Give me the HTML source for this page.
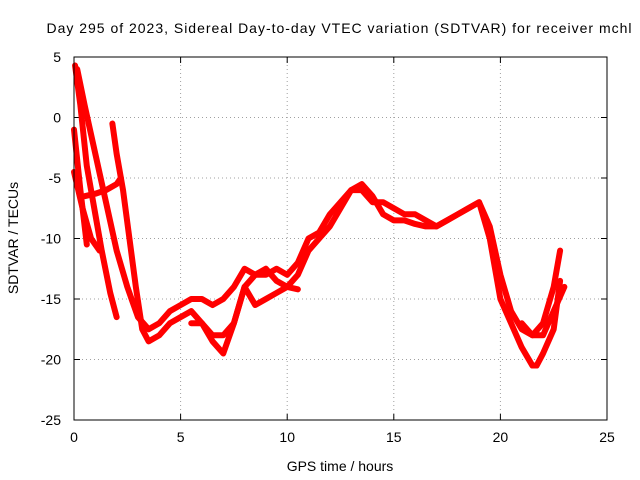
<!DOCTYPE html>
<html><head><meta charset="utf-8"><style>
html,body{margin:0;padding:0;background:#fff}
svg{display:block;font-family:"Liberation Sans",sans-serif}
</style></head><body>
<svg id="chart" width="640" height="480">
<text x="339" y="33" font-size="14" text-anchor="middle" textLength="585">Day 295 of 2023, Sidereal Day-to-day VTEC variation (SDTVAR) for receiver mchl</text>
<text x="340" y="471" font-size="14" text-anchor="middle">GPS time / hours</text>
<text x="0" y="0" font-size="14" text-anchor="middle" transform="translate(18,238) rotate(-90)">SDTVAR / TECUs</text>
<g id="grid"></g><g id="ticks"></g><g id="series"></g>
<rect x="74" y="57" width="533" height="363" fill="none" stroke="#000" stroke-width="1"/>
</svg>
<script>
const xTicks=[0,5,10,15,20,25];
const yTicks=[5,0,-5,-10,-15,-20,-25];
const s1x=[0.05,0.3,0.6,1,1.3,1.7,2.0];
const s1y=[4.3,1,-4,-8,-11,-14.5,-16.5];
const s2x=[0.15,0.5,1,1.5,2,2.5,3,3.5,4,4.5,5,5.5,6,6.5,7,7.5,8,8.5,9,9.5,10,10.5,11,11.5,12,12.5,13,13.5,14,14.5,15,15.5,16,16.5,17,17.5,18,18.5,19,19.5,20,20.5,21,21.5,22,22.5,23];
const s2y=[4,1,-3,-7,-11,-14,-16.5,-17.5,-17,-16,-15.5,-15,-15,-15.5,-15,-14,-12.5,-13,-13,-12.5,-13,-12,-10,-9.5,-8,-7,-6,-6,-7,-7,-7.5,-8,-8,-8.5,-9,-8.5,-8,-7.5,-7,-9,-13,-16,-17.5,-18,-18,-16,-14];
const s3x=[1.8,2,2.3,2.6,2.9,3.2,3.5,4,4.5,5,5.5,6,6.5,7,7.5,8,8.5,9,9.5,10,10.5,11,11.5,12,12.5,13,13.5,14,14.5,15,15.5,16,16.5,17,17.5,18,18.5,19,19.5,20,20.5,21,21.5,21.7,22,22.5,22.8];
const s3y=[-0.5,-3,-6,-10,-14,-17.5,-18.5,-18,-17,-16.5,-16,-17,-18,-18,-17,-14,-13,-12.5,-13.5,-14,-13,-11,-10,-9,-7.5,-6,-5.5,-6.5,-8,-8.5,-8.5,-8.8,-9,-9,-8.5,-8,-7.5,-7,-10,-15,-17,-19,-20.5,-20.5,-19.5,-17.5,-13.5];
const s4x=[0,0.3,0.6];
const s4y=[-1,-6,-10.5];
const s5x=[0,0.4,0.8,1.2];
const s5y=[-4.5,-7.5,-10,-11];
const s6x=[0.5,1,1.5,2,2.2];
const s6y=[-6.5,-6.3,-6,-5.5,-5];
const s7x=[5.5,6,6.5,7,7.5,8,8.5,9,9.5,10,10.5];
const s7y=[-17,-17,-18.5,-19.5,-17,-14,-15.5,-15,-14.5,-14,-14.2];
const s8x=[21,21.5,22,22.5,22.8];
const s8y=[-17,-18,-17,-14,-11];
const X=v=>74+(v-0)/25*533;
const Y=v=>57+(5-v)/30*363;
const NS="http://www.w3.org/2000/svg";
const mk=(t,a,p)=>{const e=document.createElementNS(NS,t);for(const k in a)e.setAttribute(k,a[k]);p.appendChild(e);return e;};
const grid=document.getElementById('grid'),ticks=document.getElementById('ticks'),ser=document.getElementById('series');
xTicks.forEach(t=>{
  const x=X(t);
  if(t>0&&t<25){const g=mk('line',{x1:x,x2:x,y1:57,y2:420,stroke:'#a0a0a0','stroke-dasharray':'1,3'},grid);
  
  }
  mk('line',{x1:x,x2:x,y1:420,y2:414,stroke:'#000'},ticks);
  mk('line',{x1:x,x2:x,y1:57,y2:63,stroke:'#000'},ticks);
  const l=mk('text',{x:x,y:442,'font-size':14,'text-anchor':'middle'},ticks);l.textContent=t;
  
  
});
yTicks.forEach(t=>{
  const y=Y(t);
  if(t<5&&t>-25){const g=mk('line',{x1:74,x2:607,y1:y,y2:y,stroke:'#a0a0a0','stroke-dasharray':'1,3'},grid);
  
  }
  mk('line',{x1:74,x2:80,y1:y,y2:y,stroke:'#000'},ticks);
  mk('line',{x1:601,x2:607,y1:y,y2:y,stroke:'#000'},ticks);
  const l=mk('text',{x:61,y:y+5,'font-size':14,'text-anchor':'end'},ticks);l.textContent=t;
  
  
});
const all=[[s1x,s1y],[s2x,s2y],[s3x,s3y],[s4x,s4y],[s5x,s5y],[s6x,s6y],[s7x,s7y],[s8x,s8y]];
all.forEach((s,i)=>{
  const pts=s[0].map((v,j)=>X(v)+','+Y(s[1][j])).join(' ');
  const p=mk('polyline',{points:pts,fill:'none',stroke:'#f00','stroke-width':6,'stroke-linejoin':'round','stroke-linecap':'round'},ser);
  
  
});
</script>
</body></html>
